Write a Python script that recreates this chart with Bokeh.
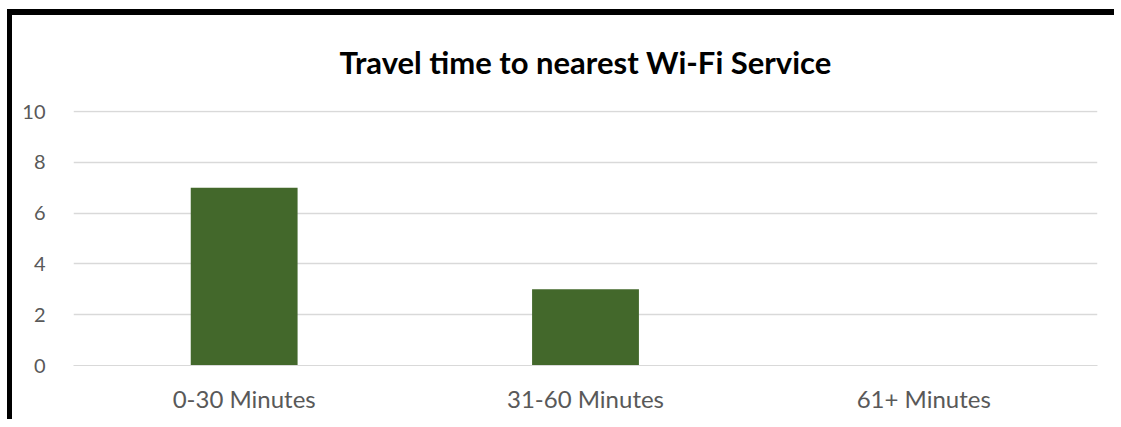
from bokeh.plotting import figure
from bokeh.models import FactorRange, Range1d, FixedTicker
from bokeh.embed import file_html
from bokeh.resources import INLINE

# Travel time buckets and number of respondents
categories = ["0-30 Minutes", "31-60 Minutes", "61+  Minutes"]
counts = [7, 3, 0]
y_ticks = [0, 2, 4, 6, 8, 10]
title_text = "Travel time to nearest Wi-Fi Service"

TEXT_GREY = "#595959"
GRID_GREY = "#d9d9d9"
BAR_GREEN = "#43682b"
FONT = "Lato"

# canvas starts inside a black left/top frame
OFF_X, OFF_Y = 12, 15

p = figure(
    width=1121 - OFF_X - 2, height=427 - OFF_Y - 2,
    x_range=FactorRange(factors=categories, range_padding=0),
    y_range=Range1d(0, 10.04),
    output_backend="svg", toolbar_location=None,
    min_border_left=73 - OFF_X, min_border_right=22,
    min_border_top=110 - OFF_Y, min_border_bottom=60,
)
p.margin = (9, 0, 0, 7)
p.styles = {"border-left": "5px solid black", "border-top": "6px solid black"}
p.outline_line_color = None
p.background_fill_color = "white"
p.border_fill_color = "white"

p.vbar(x=categories, top=counts, width=0.313, fill_color=BAR_GREEN, line_color=None)

# Title
p.title.text = title_text
p.title.align = "center"
p.title.vertical_align = "top"
p.title.text_font = FONT
p.title.text_font_style = "bold"
p.title.text_font_size = "31px"
p.title.text_color = "black"
p.title.standoff = 55

# Axes
p.yaxis.ticker = FixedTicker(ticks=y_ticks)
p.yaxis.axis_line_color = None
p.yaxis.major_tick_line_color = None
p.yaxis.minor_tick_line_color = None
p.yaxis.major_label_text_font = FONT
p.yaxis.major_label_text_font_size = "20px"
p.yaxis.major_label_text_color = TEXT_GREY
p.yaxis.major_label_standoff = 22

p.xaxis.axis_line_color = GRID_GREY
p.xaxis.major_tick_line_color = None
p.xaxis.minor_tick_line_color = None
p.xaxis.major_label_text_font = FONT
p.xaxis.major_label_text_font_size = "24px"
p.xaxis.major_label_text_color = TEXT_GREY
p.xaxis.major_label_standoff = 12

p.xgrid.grid_line_color = None
p.ygrid.ticker = FixedTicker(ticks=y_ticks)
p.ygrid.grid_line_color = GRID_GREY
p.ygrid.grid_line_width = 1.5

open("out.html", "w").write(file_html(p, INLINE))
